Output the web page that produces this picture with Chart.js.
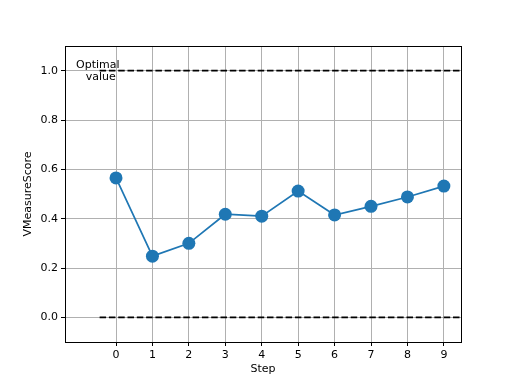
<!DOCTYPE html>
<html>
<head>
<meta charset="utf-8">
<script src="https://cdn.jsdelivr.net/npm/chart.js@4"></script>
<style>
  html, body { margin: 0; padding: 0; background: #fff; }
  #wrap { width: 512px; height: 384px; }
</style>
</head>
<body>
<div id="wrap"><canvas id="chart" width="512" height="384"></canvas></div>
<script>
var steps = [0, 1, 2, 3, 4, 5, 6, 7, 8, 9];
var scores = [0.565, 0.248, 0.30, 0.418, 0.41, 0.512, 0.415, 0.45, 0.488, 0.532];
var optimalLine = [{ x: -0.45, y: 1.0 }, { x: 9.6, y: 1.0 }];
var zeroLine = [{ x: -0.45, y: 0.0 }, { x: 9.6, y: 0.0 }];
var yTicks = [0.0, 0.2, 0.4, 0.6, 0.8, 1.0];
var xTicks = steps;
var annotation = { x: -0.5, y: 1.0, lines: ['Optimal', 'value'] };

var FONT = 'DejaVu Sans';

// spines on all four sides plus the "Optimal value" text
var framePlugin = {
  id: 'frame',
  afterDraw: function (chart) {
    var ctx = chart.ctx;
    var a = chart.chartArea;
    ctx.save();
    ctx.strokeStyle = '#000';
    ctx.lineWidth = 1;
    ctx.strokeRect(a.left + 0.5, a.top + 0.5, a.right - a.left, a.bottom - a.top);

    var xs = chart.scales.x, ys = chart.scales.y;
    var px = xs.getPixelForValue(annotation.x);
    var py = ys.getPixelForValue(annotation.y);
    ctx.fillStyle = '#000';
    ctx.font = '11px ' + FONT;
    ctx.textAlign = 'center';
    ctx.textBaseline = 'middle';
    ctx.fillText(annotation.lines[0], px, py - 6);
    ctx.fillText(annotation.lines[1], px + 3, py + 6);
    ctx.restore();
  }
};

var ctx = document.getElementById('chart');
new Chart(ctx, {
  type: 'line',
  data: {
    datasets: [
      {
        data: optimalLine,
        borderColor: '#000',
        borderWidth: 1.7,
        borderDash: [6.5, 2.8],
        pointRadius: 0,
        fill: false
      },
      {
        data: zeroLine,
        borderColor: '#000',
        borderWidth: 1.7,
        borderDash: [6.5, 2.8],
        pointRadius: 0,
        fill: false
      },
      {
        data: steps.map(function (s, i) { return { x: s, y: scores[i] }; }),
        borderColor: '#1f77b4',
        backgroundColor: '#1f77b4',
        borderWidth: 1.7,
        pointRadius: 6.5,
        pointBorderWidth: 0,
        pointBackgroundColor: '#1f77b4',
        tension: 0,
        fill: false
      }
    ]
  },
  options: {
    responsive: false,
    animation: false,
    layout: { padding: { left: 0, top: 46, right: 51, bottom: 0 } },
    plugins: {
      legend: { display: false },
      tooltip: { enabled: false }
    },
    scales: {
      x: {
        type: 'linear',
        min: -1.4,
        max: 9.47,
        afterBuildTicks: function (scale) {
          scale.ticks = xTicks.map(function (v) { return { value: v }; });
        },
        afterFit: function (scale) { scale.height = 42; },
        grid: { color: '#b0b0b0', lineWidth: 1, tickColor: '#000', tickLength: 4, drawTicks: true },
        border: { display: false },
        ticks: { color: '#000', font: { family: FONT, size: 11 }, padding: 3, maxRotation: 0, autoSkip: false },
        title: { display: true, text: 'Step', color: '#000', font: { family: FONT, size: 11 }, padding: { top: 0, bottom: 8 } }
      },
      y: {
        type: 'linear',
        min: -0.1,
        max: 1.1,
        afterBuildTicks: function (scale) {
          scale.ticks = yTicks.map(function (v) { return { value: v }; });
        },
        afterFit: function (scale) { scale.width = 65; },
        grid: { color: '#b0b0b0', lineWidth: 1, tickColor: '#000', tickLength: 4, drawTicks: true },
        border: { display: false },
        ticks: {
          color: '#000',
          font: { family: FONT, size: 11 },
          padding: 3,
          callback: function (v) { return Number(v).toFixed(1); }
        },
        title: { display: true, text: 'VMeasureScore', color: '#000', font: { family: FONT, size: 11 }, padding: { top: 22, bottom: 0 } }
      }
    }
  },
  plugins: [framePlugin]
});
</script>
</body>
</html>
